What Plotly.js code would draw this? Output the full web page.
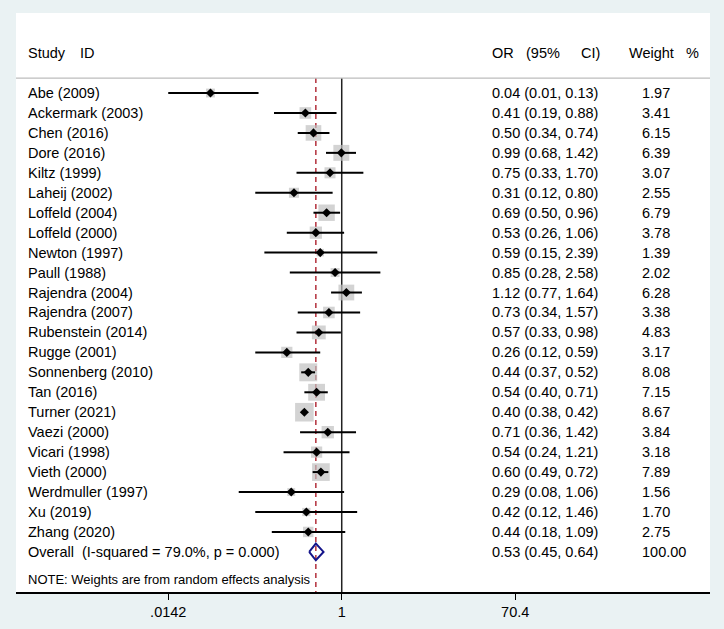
<!DOCTYPE html>
<html>
<head>
<meta charset="utf-8">
<script src="https://cdn.plot.ly/plotly-3.0.1.min.js"></script>
<style>
  html, body { margin: 0; padding: 0; background: #eaf2f3; }
  #chart { width: 724px; height: 629px; }
</style>
</head>
<body>
<div id="chart"></div>
<script>
// Forest plot (Stata metan style), random effects OR with 95% CI.

const studies = [
  'Abe (2009)', 'Ackermark (2003)', 'Chen (2016)', 'Dore (2016)', 'Kiltz (1999)',
  'Laheij (2002)', 'Loffeld (2004)', 'Loffeld (2000)', 'Newton (1997)', 'Paull (1988)',
  'Rajendra (2004)', 'Rajendra (2007)', 'Rubenstein (2014)', 'Rugge (2001)',
  'Sonnenberg (2010)', 'Tan (2016)', 'Turner (2021)', 'Vaezi (2000)', 'Vicari (1998)',
  'Vieth (2000)', 'Werdmuller (1997)', 'Xu (2019)', 'Zhang (2020)',
];
const orEst = [0.04, 0.41, 0.50, 0.99, 0.75, 0.31, 0.69, 0.53, 0.59, 0.85, 1.12, 0.73,
  0.57, 0.26, 0.44, 0.54, 0.40, 0.71, 0.54, 0.60, 0.29, 0.42, 0.44];
const ciLow = [0.01, 0.19, 0.34, 0.68, 0.33, 0.12, 0.50, 0.26, 0.15, 0.28, 0.77, 0.34,
  0.33, 0.12, 0.37, 0.40, 0.38, 0.36, 0.24, 0.49, 0.08, 0.12, 0.18];
const ciHigh = [0.13, 0.88, 0.74, 1.42, 1.70, 0.80, 0.96, 1.06, 2.39, 2.58, 1.64, 1.57,
  0.98, 0.59, 0.52, 0.71, 0.42, 1.42, 1.21, 0.72, 1.06, 1.46, 1.09];
const weights = ['1.97', '3.41', '6.15', '6.39', '3.07', '2.55', '6.79', '3.78', '1.39', '2.02',
  '6.28', '3.38', '4.83', '3.17', '8.08', '7.15', '8.67', '3.84', '3.18', '7.89', '1.56', '1.70', '2.75'];

const overall = { label: 'Overall\u00a0 (I-squared = 79.0%, p = 0.000)', or: 0.53, lo: 0.45, hi: 0.64, weight: '100.00' };
const note = 'NOTE: Weights are from random effects analysis';

const tickVals = [0.0142, 1, 70.4];
const tickText = ['.0142', '1', '70.4'];

const FONT = 'Arial, "Liberation Sans", sans-serif';
const INK = '#000';
const W = 724, L = 16, R = 14;
const px = x => (x - L) / (W - L - R);  // pixel column -> paper fraction

const n = studies.length;
const rows = studies.map((_, i) => i);
const yTop = -4.01, yBot = 25.01, yHeadLine = -0.75;
const fmt = v => v.toFixed(2);
const clipLo = v => Math.max(v, tickVals[0]);

// CI whiskers
const ciX = [], ciY = [];
rows.forEach(i => { ciX.push(clipLo(ciLow[i]), ciHigh[i], null); ciY.push(i, i, null); });

const traces = [
  { x: [1, 1], y: [yHeadLine, yBot], mode: 'lines', line: { color: '#222', width: 1.5 }, hoverinfo: 'skip' },
  { x: [overall.or, overall.or], y: [yHeadLine, yBot], mode: 'lines',
    line: { color: '#b3303c', width: 1.5, dash: '5px,4px' }, hoverinfo: 'skip' },
  { x: orEst, y: rows, mode: 'markers',
    marker: { symbol: 'square', color: '#c0c0c0', size: weights.map(w => 6.3 * Math.sqrt(+w)), line: { width: 0 } } },
  { x: ciX, y: ciY, mode: 'lines', line: { color: '#000', width: 2 }, hoverinfo: 'skip' },
  { x: orEst, y: rows, mode: 'markers', marker: { symbol: 'diamond', color: '#000', size: 7 } },
  { x: [overall.lo, overall.or, overall.hi, overall.or, overall.lo],
    y: [n, n - 0.42, n, n + 0.42, n], mode: 'lines', line: { color: '#14148a', width: 2 }, hoverinfo: 'skip' },
];

const ann = (x, y, text, size, anchor) => ({
  xref: 'paper', yref: 'y', x: px(x), y, text, showarrow: false,
  xanchor: anchor || 'left', yanchor: 'middle', font: { family: FONT, size: size || 14.5, color: INK },
});

const annotations = [
  ann(26, -2, 'Study'), ann(78, -2, 'ID'),
  ann(490, -2, 'OR'), ann(524, -2, '(95%'), ann(579, -2, 'CI)'),
  ann(627, -2, 'Weight'), ann(684, -2, '%'),
];
rows.forEach(i => {
  annotations.push(ann(26, i, studies[i]));
  annotations.push(ann(490, i, `${fmt(orEst[i])} (${fmt(ciLow[i])}, ${fmt(ciHigh[i])})`));
  annotations.push(ann(640, i, weights[i]));
});
annotations.push(ann(26, n, overall.label));
annotations.push(ann(490, n, `${fmt(overall.or)} (${fmt(overall.lo)}, ${fmt(overall.hi)})`));
annotations.push(ann(640, n, overall.weight));
annotations.push(ann(26, n + 1.4, note, 13));

const layout = {
  width: W, height: 629,
  margin: { l: L, r: R, t: 13, b: 37, pad: 0 },
  paper_bgcolor: '#eaf2f3', plot_bgcolor: '#fff',
  showlegend: false,
  font: { family: FONT, color: INK, size: 14.5 },
  xaxis: {
    type: 'log', range: [-3.469, 3.922], tickvals: tickVals, ticktext: tickText,
    ticks: 'outside', ticklen: 6, tickwidth: 1.2, tickcolor: '#000',
    showline: true, linecolor: '#000', linewidth: 1.5, showgrid: false, zeroline: false,
    tickfont: { family: FONT, size: 14.5, color: INK },
  },
  yaxis: { range: [yBot, yTop], visible: false, showgrid: false, zeroline: false },
  shapes: [
    { type: 'line', xref: 'paper', yref: 'y', x0: 0, x1: 1, y0: yHeadLine, y1: yHeadLine,
      line: { color: '#bdbdbd', width: 1.2 } },
  ],
  annotations,
};

Plotly.newPlot('chart', traces, layout, { displayModeBar: false, staticPlot: true });
</script>
</body>
</html>
